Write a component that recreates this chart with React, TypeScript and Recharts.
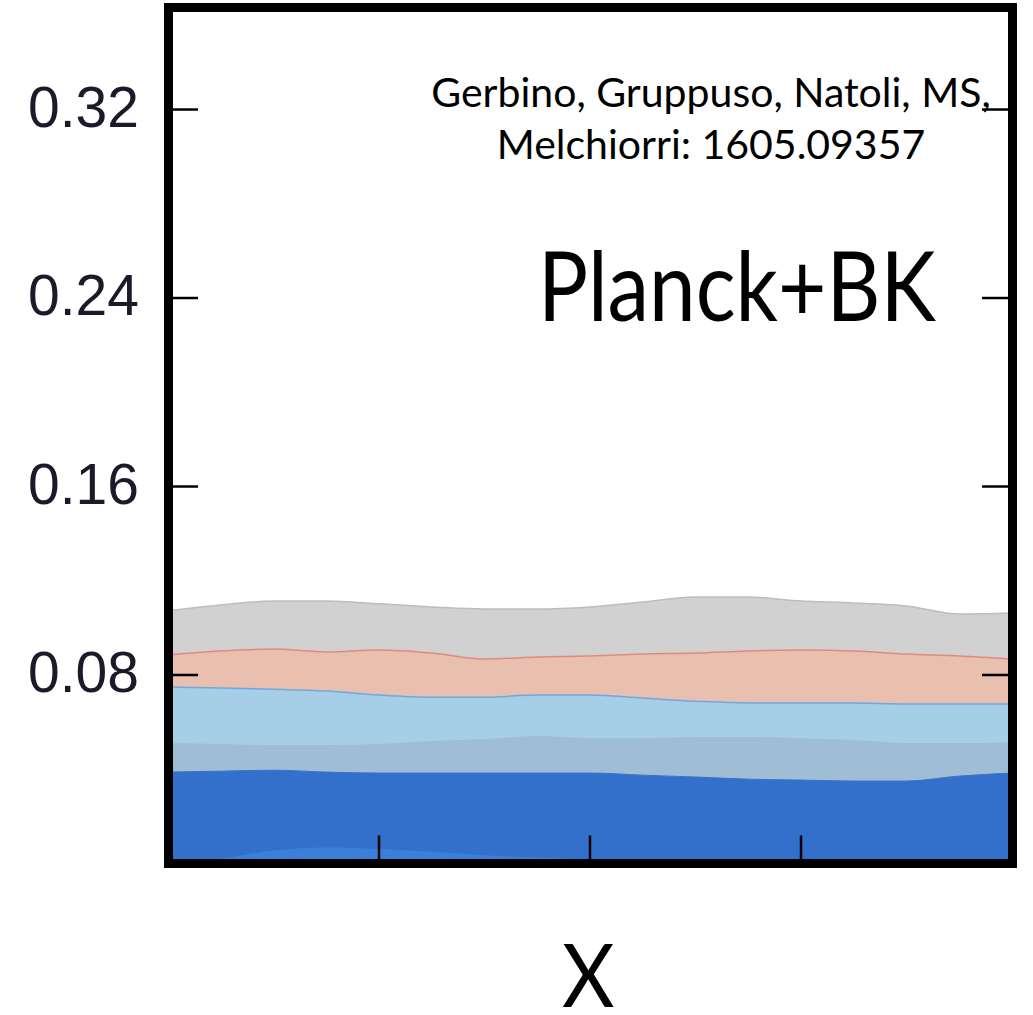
import React from "react";
import { AreaChart, Area, XAxis, YAxis } from "recharts";

const xPos = [0, 0.25, 0.5, 0.75, 1, 1.25, 1.5, 1.75, 2, 2.25, 2.5, 2.75, 3, 3.25, 3.5, 3.75, 4];
const grayTop = [0.1072, 0.1097, 0.1114, 0.1114, 0.1102, 0.1089, 0.108, 0.108, 0.1089, 0.111, 0.1131, 0.1131, 0.1114, 0.1106, 0.1093, 0.1059, 0.1063];
const salmonTop = [0.0885, 0.0902, 0.091, 0.0898, 0.0906, 0.0893, 0.0868, 0.0876, 0.0881, 0.0889, 0.0893, 0.0902, 0.0906, 0.0902, 0.0889, 0.0881, 0.0868];
const lightBlueTop = [0.0749, 0.0745, 0.074, 0.0732, 0.0715, 0.0706, 0.0706, 0.0715, 0.0715, 0.0702, 0.0689, 0.0681, 0.0681, 0.0681, 0.0677, 0.0677, 0.0677];
const grayBlueTop = [0.0511, 0.0507, 0.0503, 0.0503, 0.0507, 0.052, 0.0528, 0.0541, 0.0532, 0.0532, 0.0537, 0.0537, 0.0532, 0.0524, 0.0511, 0.0511, 0.0515];
const darkBlueTop = [0.0388, 0.0392, 0.0396, 0.0388, 0.0384, 0.0384, 0.0384, 0.0384, 0.0384, 0.0375, 0.0367, 0.0358, 0.0354, 0.035, 0.035, 0.0371, 0.0384];
const bumpTop = [0.0005, 0.002, 0.0055, 0.0068, 0.0062, 0.005, 0.0035, 0.0025, 0.0015, 0, 0, 0, 0, 0, 0, 0, 0];

const yTicks = [0.08, 0.16, 0.24, 0.32];
const xTicks = [1, 2, 3];
const yMax = 0.3633;

const data = xPos.map((x, i) => ({
  x,
  gray: grayTop[i],
  salmon: salmonTop[i],
  lightBlue: lightBlueTop[i],
  grayBlue: grayBlueTop[i],
  darkBlue: darkBlueTop[i],
  bump: bumpTop[i],
}));

const LEFT = 168;
const RIGHT = 1012;
const TOP = 7.5;
const BOTTOM = 863.5;

const YTick = (props: any) => {
  const { y, payload } = props;
  return (
    <g>
      <text
        x={139}
        y={y - 3}
        textAnchor="end"
        dominantBaseline="central"
        fontFamily="'Liberation Sans', Arial, sans-serif"
        fontSize={57}
        fill="#1a1a2a"
      >
        {payload.value.toFixed(2)}
      </text>
      <line x1={LEFT} x2={LEFT + 30} y1={y} y2={y} stroke="#000" strokeWidth={2.5} />
      <line x1={RIGHT - 30} x2={RIGHT} y1={y} y2={y} stroke="#000" strokeWidth={2.5} />
    </g>
  );
};

const XTick = (props: any) => {
  const { x } = props;
  return <line x1={x} x2={x} y1={BOTTOM} y2={BOTTOM - 28} stroke="#000" strokeWidth={2.5} />;
};

const textBase: React.CSSProperties = {
  position: "absolute",
  fontFamily: "Lato, 'Open Sans', sans-serif",
  color: "#000",
  whiteSpace: "nowrap",
  lineHeight: 1,
};

export default function App() {
  return (
    <div style={{ position: "absolute", left: 0, top: 0, width: 1033, height: 1015, background: "#fff", overflow: "hidden" }}>
      <AreaChart
        width={1033}
        height={1015}
        data={data}
        margin={{ top: TOP, right: 1033 - RIGHT, bottom: 1015 - BOTTOM - 20, left: LEFT - 60 }}
      >
        <Area type="monotone" dataKey="gray" fill="#d1d1d1" fillOpacity={1} stroke="#bdbdbd" strokeWidth={1.5} isAnimationActive={false} />
        <Area type="monotone" dataKey="salmon" fill="#e9bfb0" fillOpacity={1} stroke="#e08a7c" strokeWidth={1.5} isAnimationActive={false} />
        <Area type="monotone" dataKey="lightBlue" fill="#a6cee6" fillOpacity={1} stroke="#6fa8e0" strokeWidth={1.5} isAnimationActive={false} />
        <Area type="monotone" dataKey="grayBlue" fill="#a0bdd6" fillOpacity={1} stroke="none" isAnimationActive={false} />
        <Area type="monotone" dataKey="darkBlue" fill="#3370cc" fillOpacity={1} stroke="#3a72cc" strokeWidth={1} isAnimationActive={false} />
        <Area type="monotone" dataKey="bump" fill="#3a80da" fillOpacity={1} stroke="none" isAnimationActive={false} />
        <XAxis
          dataKey="x"
          type="number"
          domain={[0, 4]}
          ticks={xTicks}
          height={20}
          axisLine={false}
          tickLine={false}
          tick={<XTick />}
        />
        <YAxis
          type="number"
          domain={[0, yMax]}
          ticks={yTicks}
          width={60}
          axisLine={false}
          tickLine={false}
          tick={<YTick />}
        />
      </AreaChart>
      <div
        style={{
          position: "absolute",
          left: LEFT - 4.5,
          top: TOP - 4.5,
          width: RIGHT - LEFT + 9,
          height: BOTTOM - TOP + 9,
          border: "9px solid #000",
          boxSizing: "border-box",
          pointerEvents: "none",
        }}
      />
      <div style={{ ...textBase, left: 411, top: 66, width: 600, textAlign: "center", fontSize: 41, lineHeight: "52px" }}>
        Gerbino, Gruppuso, Natoli, MS,
        <br />
        Melchiorri: 1605.09357
      </div>
      <div
        style={{
          ...textBase,
          left: 538,
          top: 236,
          fontSize: 96,
          transform: "scaleX(0.87)",
          transformOrigin: "left center",
        }}
      >
        Planck+BK
      </div>
      <div style={{ ...textBase, left: 562, top: 940, fontSize: 88, lineHeight: "66px", transform: "scaleX(0.92)", transformOrigin: "left center" }}>
        X
      </div>
    </div>
  );
}
